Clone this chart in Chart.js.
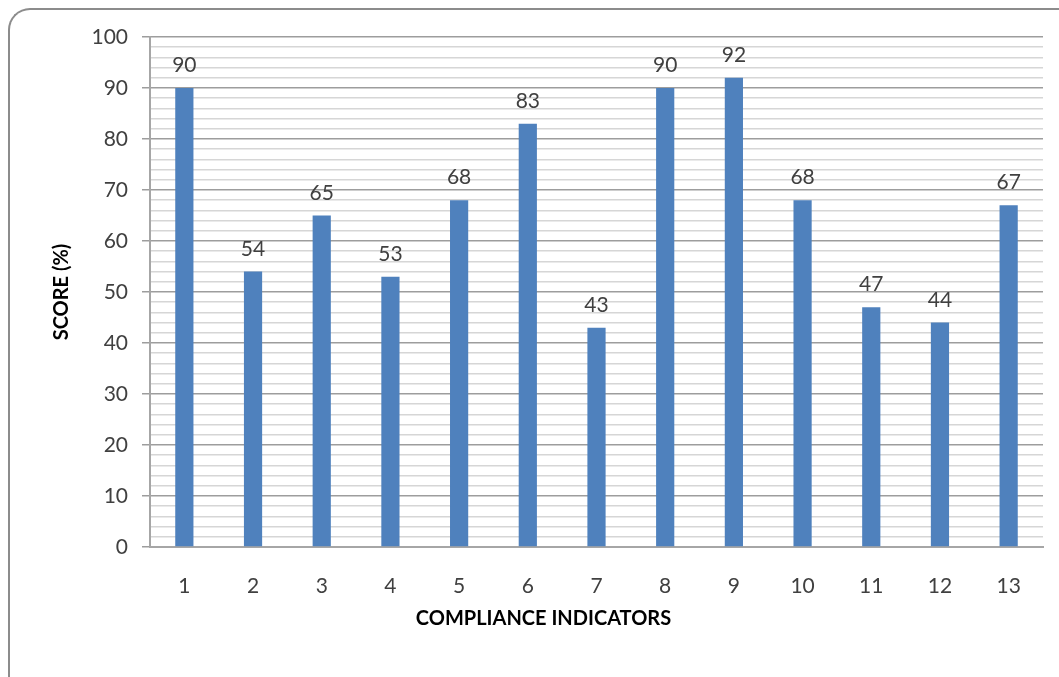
<!DOCTYPE html>
<html>
<head>
<meta charset="utf-8">
<script src="https://cdn.jsdelivr.net/npm/chart.js@4/dist/chart.umd.min.js"></script>
<style>
  html, body { margin: 0; padding: 0; background: #fff; overflow: hidden; }
  #wrap { position: relative; width: 1059px; height: 677px; }
  #frame {
    position: absolute; left: 8px; top: 8px; width: 1100px; height: 720px;
    border-left: 2px solid #8c8c8c; border-top: 2px solid #8c8c8c;
    border-top-left-radius: 22px; box-sizing: border-box;
  }
  canvas { position: absolute; left: 0; top: 0; }
</style>
</head>
<body>
<div id="wrap">
  <div id="frame"></div>
  <canvas id="chart" width="1059" height="677"></canvas>
</div>
<script>
// chart data
const indicators = ['1', '2', '3', '4', '5', '6', '7', '8', '9', '10', '11', '12', '13'];
const scores = [90, 54, 65, 53, 68, 83, 43, 90, 92, 68, 47, 44, 67];
const yMax = 100;
const yStep = 2;       // minor gridlines
const yLabelStep = 10; // labelled ticks

const fontFamily = "Lato, 'Open Sans', sans-serif";
const textColor = '#404040';

// value labels above each bar
const valueLabels = {
    id: 'valueLabels',
    afterDatasetsDraw(chart) {
        const { ctx } = chart;
        const meta = chart.getDatasetMeta(0);
        ctx.save();
        ctx.font = `21px ${fontFamily}`;
        ctx.fillStyle = textColor;
        ctx.textAlign = 'center';
        ctx.textBaseline = 'alphabetic';
        meta.data.forEach((bar, i) => {
            ctx.fillText(scores[i], bar.x, bar.y - 16);
        });
        ctx.restore();
    }
};

const ctx = document.getElementById('chart').getContext('2d');
new Chart(ctx, {
    type: 'bar',
    data: {
        labels: indicators,
        datasets: [{
            data: scores,
            backgroundColor: '#4f81bd',
            borderWidth: 0,
            categoryPercentage: 1,
            barPercentage: 0.265
        }]
    },
    options: {
        responsive: false,
        animation: false,
        layout: { padding: { left: 44, right: 16, top: 37, bottom: 46 } },
        plugins: {
            legend: { display: false },
            tooltip: { enabled: false },
            title: {
                display: true, position: 'bottom', text: 'COMPLIANCE INDICATORS', color: '#000',
                font: { family: fontFamily, size: 20, weight: 'bold' },
                padding: 0
            }
        },
        scales: {
            x: {
                afterFit: (s) => { s.height = 60; },
                grid: { display: false, drawTicks: false },
                border: { color: '#a6a6a6', width: 2 },
                ticks: { color: textColor, padding: 27, font: { family: fontFamily, size: 21 } }
            },
            y: {
                min: 0, max: yMax,
                afterFit: (s) => { s.width = 106; },
                afterBuildTicks: (s) => {
                    const t = [];
                    for (let v = 0; v <= yMax; v += yStep) t.push({ value: v });
                    s.ticks = t;
                },
                grid: {
                    color: (c) => c.tick && c.tick.value % yLabelStep === 0 ? '#9d9d9d' : '#d6d6d6',
                    tickColor: (c) => c.tick && c.tick.value % yLabelStep === 0 ? '#9d9d9d' : 'rgba(0,0,0,0)',
                    tickLength: 8,
                    lineWidth: 1.5
                },
                border: { color: '#a6a6a6', width: 2 },
                ticks: {
                    autoSkip: false,
                    padding: 14,
                    color: textColor,
                    font: { family: fontFamily, size: 21 },
                    callback: (v) => v % yLabelStep === 0 ? v : ''
                },
                title: {
                    display: true, text: 'SCORE (%)', color: '#000',
                    font: { family: fontFamily, size: 20, weight: 'bold' },
                    padding: { top: 6, bottom: 0 }
                }
            }
        }
    },
    plugins: [valueLabels]
});
</script>
</body>
</html>
